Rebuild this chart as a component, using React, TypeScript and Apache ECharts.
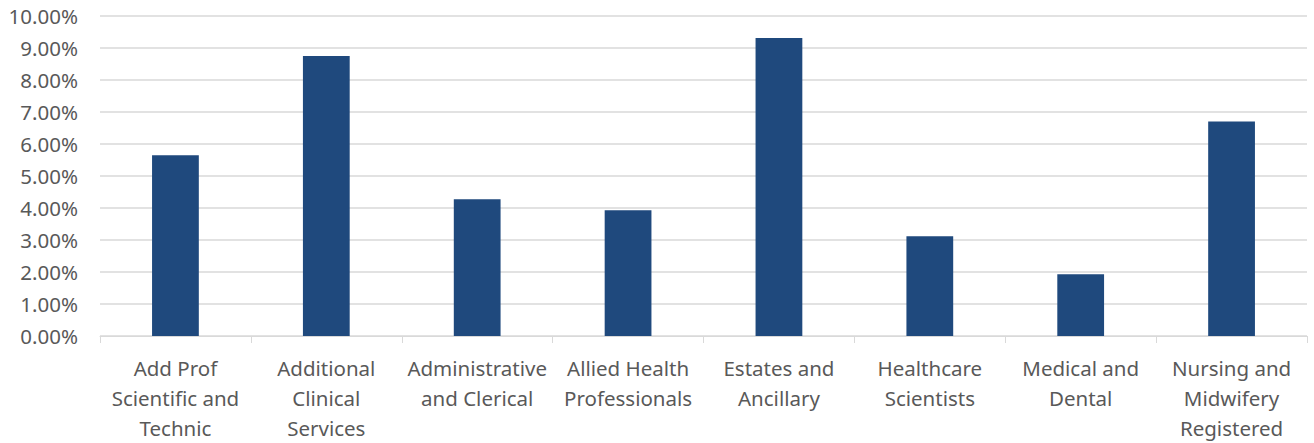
import React, { useEffect, useRef } from "react";
import * as echarts from "echarts";

const categories = [
  "Add Prof Scientific and Technic",
  "Additional Clinical Services",
  "Administrative and Clerical",
  "Allied Health Professionals",
  "Estates and Ancillary",
  "Healthcare Scientists",
  "Medical and Dental",
  "Nursing and Midwifery Registered",
];
const categoryLabels = [
  "Add Prof\nScientific and\nTechnic",
  "Additional\nClinical\nServices",
  "Administrative\nand Clerical",
  "Allied Health\nProfessionals",
  "Estates and\nAncillary",
  "Healthcare\nScientists",
  "Medical and\nDental",
  "Nursing and\nMidwifery\nRegistered",
];
const values = [5.65, 8.75, 4.27, 3.93, 9.31, 3.12, 1.93, 6.7];
const yTicks = { min: 0, max: 10, interval: 1 };

export default function App() {
  const ref = useRef<HTMLDivElement>(null);
  useEffect(() => {
    const chart = echarts.init(ref.current!, null, { renderer: "svg" });
    const font = "'Noto Sans', 'Open Sans', sans-serif";
    chart.setOption({
      animation: false,
      grid: { left: 100, right: 7, top: 16, bottom: 105.5, containLabel: false },
      xAxis: {
        type: "category",
        data: categories,
        axisLine: { lineStyle: { color: "#d9d9d9", width: 1 } },
        axisTick: { show: true, length: 7, lineStyle: { color: "#d9d9d9" } },
        axisLabel: {
          interval: 0,
          color: "#595959",
          fontFamily: font,
          fontSize: 20.5,
          lineHeight: 30,
          margin: 17,
          formatter: (_v: string, i: number) => categoryLabels[i],
        },
      },
      yAxis: {
        type: "value",
        min: yTicks.min,
        max: yTicks.max,
        interval: yTicks.interval,
        axisLine: { show: false },
        axisTick: { show: false },
        splitLine: { lineStyle: { color: "#d9d9d9", width: 1.5 } },
        axisLabel: {
          color: "#595959",
          fontFamily: font,
          fontSize: 20.5,
          margin: 22,
          formatter: (v: number) => v.toFixed(2) + "%",
        },
      },
      series: [
        {
          type: "bar",
          data: values,
          barWidth: "31%",
          itemStyle: { color: "#1f497d" },
        },
      ],
    });
    return () => chart.dispose();
  }, []);
  return <div ref={ref} style={{ width: 1314, height: 443, position: "absolute", left: 0, top: 0 }} />;
}
